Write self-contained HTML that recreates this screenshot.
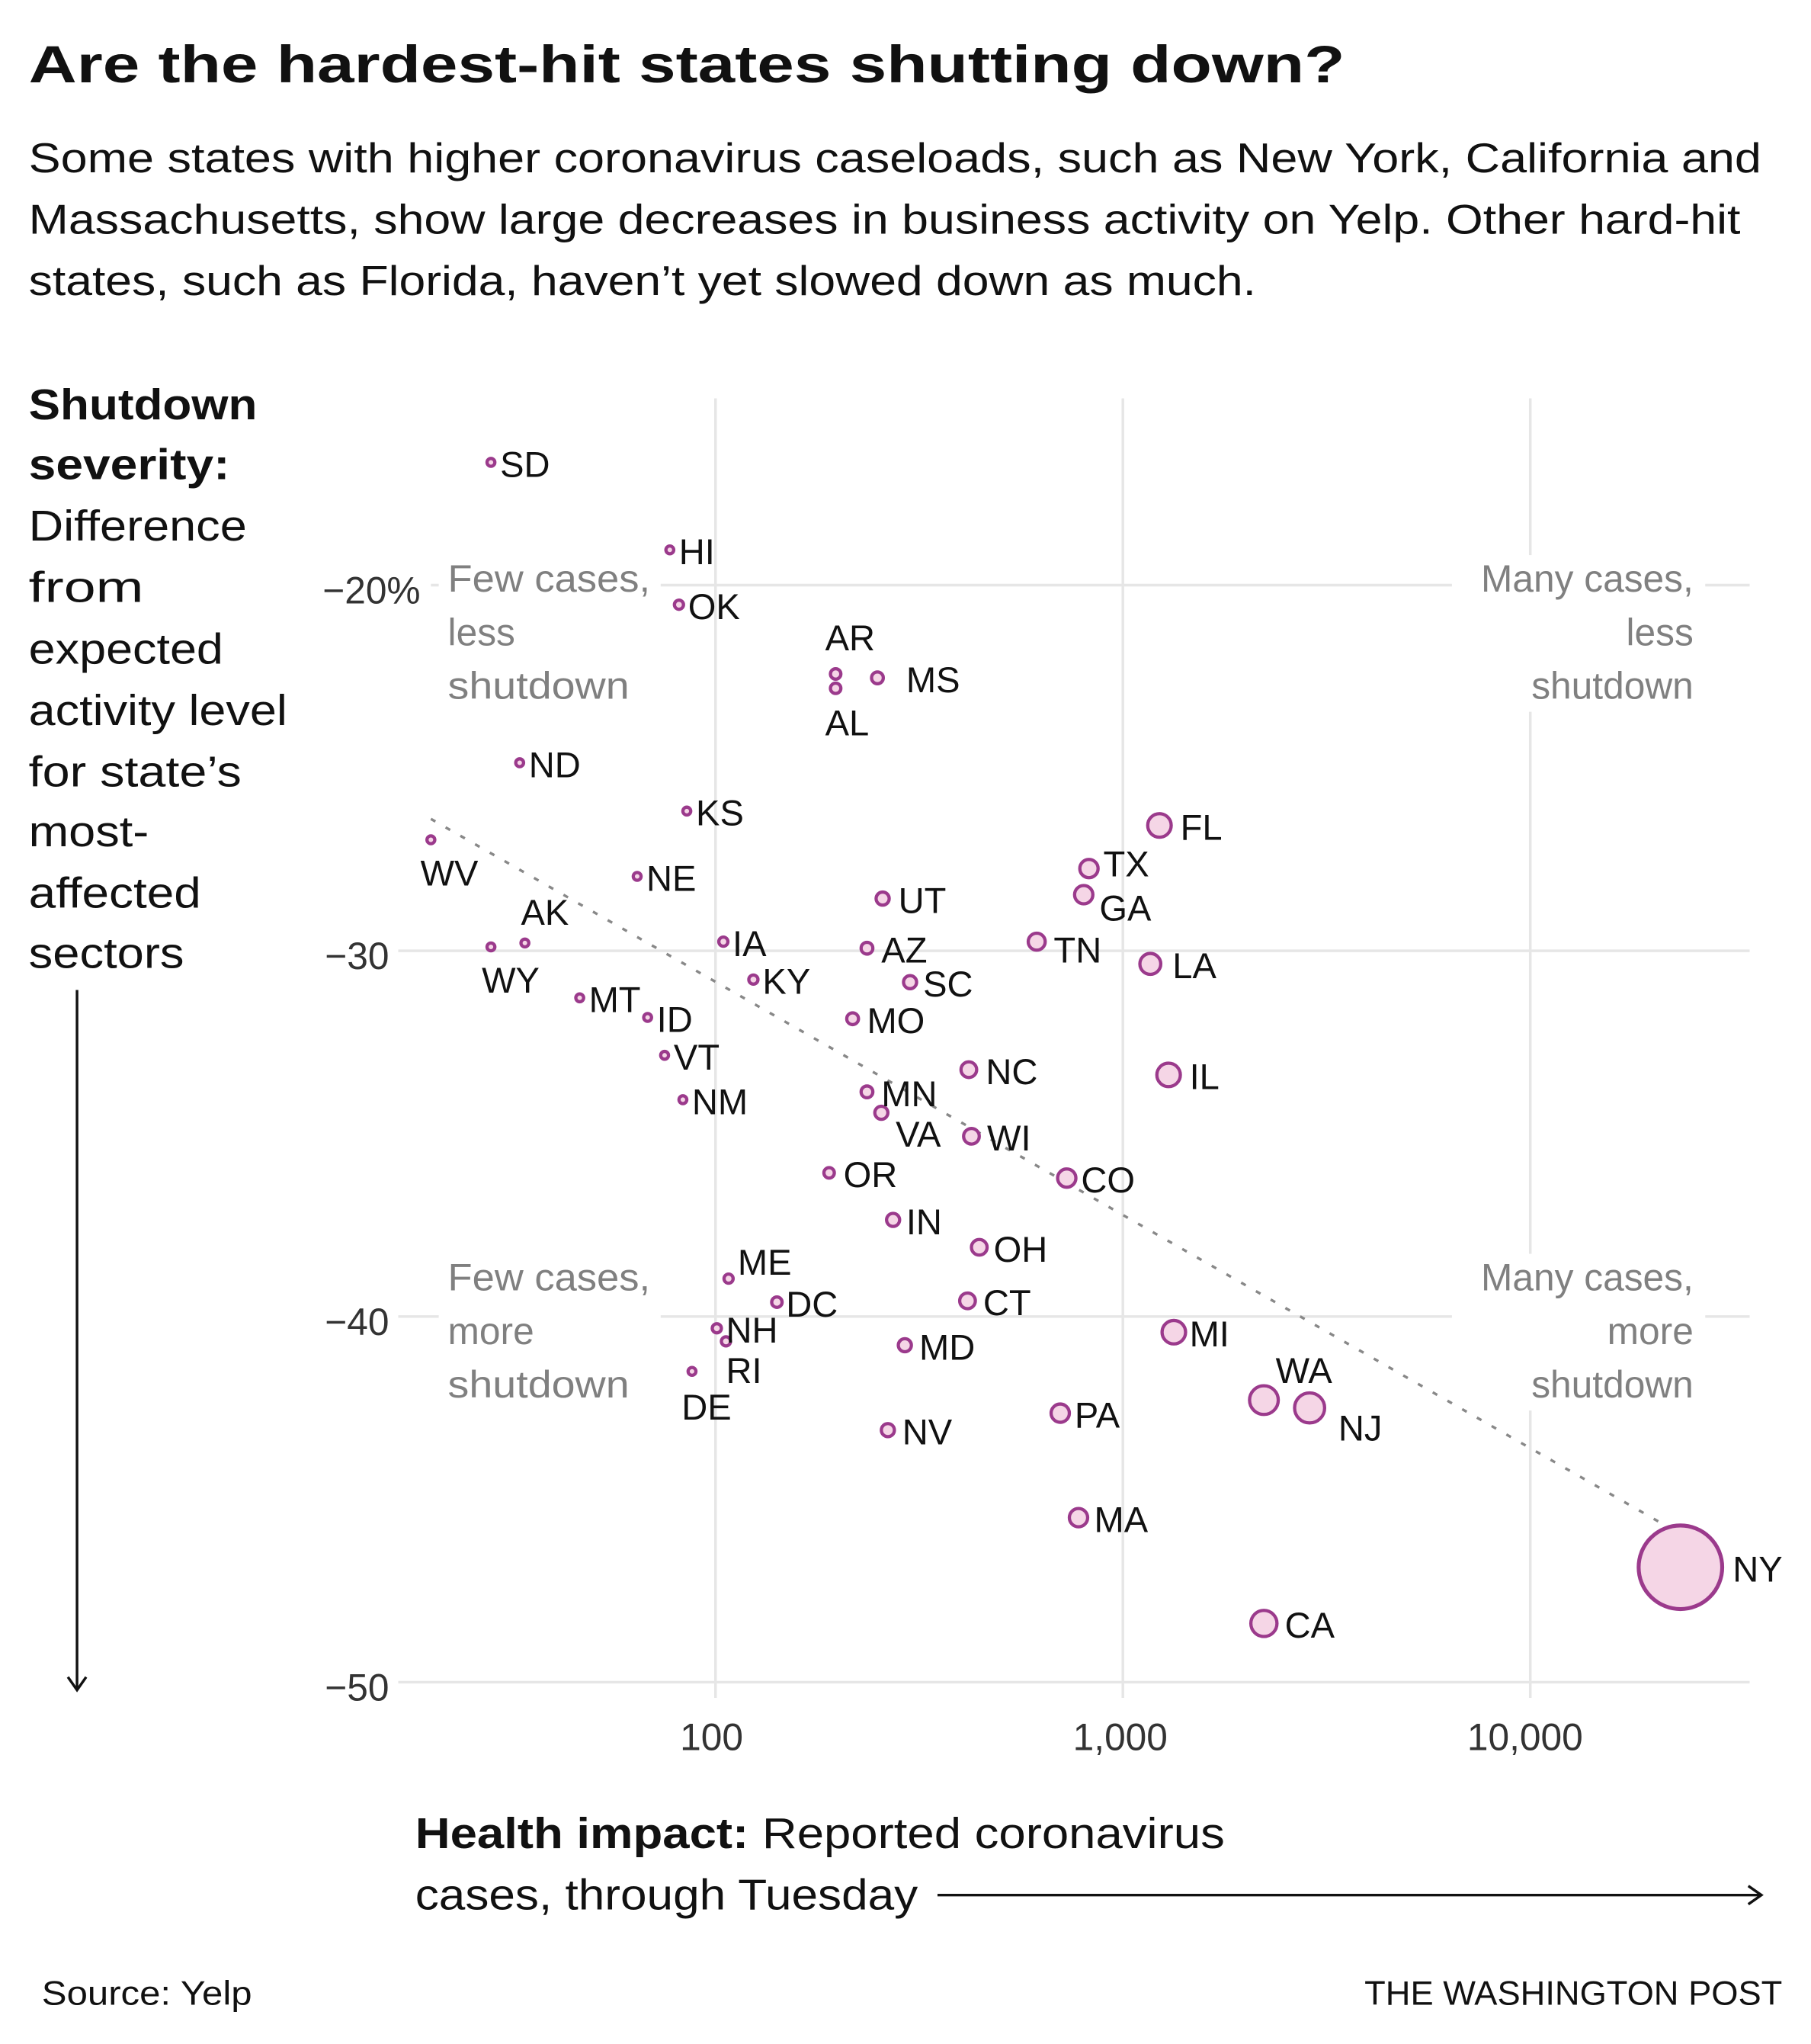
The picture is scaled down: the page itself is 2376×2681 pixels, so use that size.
<!DOCTYPE html>
<html><head><meta charset="utf-8"><style>
html,body{margin:0;padding:0;background:#fff}
svg{display:block}
text{font-family:"Liberation Sans",sans-serif}
.l{font-size:27.5px;fill:#111}
.q{font-size:29px;fill:#808080}
</style></head><body>
<svg width="2376" height="2681" viewBox="0 0 1387 1565" xmlns="http://www.w3.org/2000/svg">
<text x="22" y="63" font-size="40" font-weight="bold" fill="#111" textLength="1008" lengthAdjust="spacingAndGlyphs">Are the hardest-hit states shutting down?</text>
<g font-size="32" fill="#111">
<text x="22" y="132" textLength="1327" lengthAdjust="spacingAndGlyphs">Some states with higher coronavirus caseloads, such as New York,  California and</text>
<text x="22" y="179" textLength="1311" lengthAdjust="spacingAndGlyphs">Massachusetts, show large decreases in business activity on Yelp. Other hard-hit</text>
<text x="22" y="226" textLength="940" lengthAdjust="spacingAndGlyphs">states, such as Florida, haven’t yet slowed down as much.</text>
</g>
<g font-size="33" fill="#111">
<text x="22" y="321" font-weight="bold" textLength="175" lengthAdjust="spacingAndGlyphs">Shutdown</text>
<text x="22" y="367" font-weight="bold" textLength="154" lengthAdjust="spacingAndGlyphs">severity:</text>
<text x="22" y="414" textLength="167" lengthAdjust="spacingAndGlyphs">Difference</text>
<text x="22" y="461" textLength="88" lengthAdjust="spacingAndGlyphs">from</text>
<text x="22" y="508" textLength="149" lengthAdjust="spacingAndGlyphs">expected</text>
<text x="22" y="555" textLength="198" lengthAdjust="spacingAndGlyphs">activity level</text>
<text x="22" y="602" textLength="163" lengthAdjust="spacingAndGlyphs">for state’s</text>
<text x="22" y="648" textLength="92" lengthAdjust="spacingAndGlyphs">most-</text>
<text x="22" y="695" textLength="132" lengthAdjust="spacingAndGlyphs">affected</text>
<text x="22" y="741" textLength="119" lengthAdjust="spacingAndGlyphs">sectors</text>
</g>
<line x1="59" y1="758" x2="59" y2="1293" stroke="#111" stroke-width="2"/>
<polyline points="52,1284 59,1294 66,1284" fill="none" stroke="#111" stroke-width="2"/>
<g stroke="#e6e6e6" stroke-width="2">
<line x1="548" y1="305" x2="548" y2="1300"/>
<line x1="860" y1="305" x2="860" y2="1300"/>
<line x1="1172" y1="305" x2="1172" y2="1300"/>
<line x1="330" y1="448" x2="1340" y2="448"/>
<line x1="305" y1="728" x2="1340" y2="728"/>
<line x1="305" y1="1008" x2="1340" y2="1008"/>
<line x1="305" y1="1288" x2="1340" y2="1288"/>
</g>
<g font-size="29" fill="#333" text-anchor="end">
<text x="322" y="462">−20%</text>
<text x="298" y="742">−30</text>
<text x="298" y="1022">−40</text>
<text x="298" y="1302">−50</text>
</g>
<g font-size="29" fill="#333" text-anchor="middle">
<text x="545" y="1340">100</text>
<text x="858" y="1340">1,000</text>
<text x="1168" y="1340">10,000</text>
</g>
<rect x="336" y="425" width="170" height="120" fill="#fff"/>
<rect x="1112" y="425" width="194" height="120" fill="#fff"/>
<rect x="336" y="960" width="170" height="120" fill="#fff"/>
<rect x="1112" y="960" width="194" height="120" fill="#fff"/>
<g>
<text x="343" y="453" class="q" textLength="155" lengthAdjust="spacingAndGlyphs">Few cases,</text><text x="343" y="494" class="q">less</text><text x="343" y="535" class="q" textLength="139" lengthAdjust="spacingAndGlyphs">shutdown</text>
<text x="343" y="988" class="q" textLength="155" lengthAdjust="spacingAndGlyphs">Few cases,</text><text x="343" y="1029" class="q">more</text><text x="343" y="1070" class="q" textLength="139" lengthAdjust="spacingAndGlyphs">shutdown</text>
</g>
<g text-anchor="end">
<text x="1297" y="453" class="q">Many cases,</text><text x="1297" y="494" class="q">less</text><text x="1297" y="535" class="q">shutdown</text>
<text x="1297" y="988" class="q">Many cases,</text><text x="1297" y="1029" class="q">more</text><text x="1297" y="1070" class="q">shutdown</text>
</g>
<line x1="330" y1="627" x2="1272" y2="1166" stroke="#888" stroke-width="2" stroke-dasharray="4,9"/>
<g stroke="#9b3a8c" stroke-width="2.5" fill="#f5d6e6">
<circle cx="376" cy="354" r="3"/><circle cx="513" cy="421" r="3"/><circle cx="520" cy="463" r="3.5"/>
<circle cx="640" cy="516" r="4"/><circle cx="640" cy="527" r="4"/><circle cx="672" cy="519" r="4.5"/>
<circle cx="398" cy="584" r="3"/><circle cx="526" cy="621" r="3"/><circle cx="330" cy="643" r="3"/>
<circle cx="488" cy="671" r="3"/><circle cx="888" cy="632" r="9"/><circle cx="834" cy="665" r="7"/>
<circle cx="830" cy="685" r="7"/><circle cx="676" cy="688" r="5"/><circle cx="402" cy="722" r="3"/>
<circle cx="376" cy="725" r="3"/><circle cx="554" cy="721" r="3.5"/><circle cx="664" cy="726" r="4.5"/>
<circle cx="794" cy="721" r="6.5"/><circle cx="881" cy="738" r="8"/><circle cx="577" cy="750" r="3.5"/>
<circle cx="697" cy="752" r="5"/><circle cx="444" cy="764" r="3"/><circle cx="496" cy="779" r="3"/>
<circle cx="653" cy="780" r="4.5"/><circle cx="509" cy="808" r="3"/><circle cx="742" cy="819" r="6"/>
<circle cx="895" cy="823" r="9"/><circle cx="523" cy="842" r="3"/><circle cx="664" cy="836" r="4.5"/>
<circle cx="675" cy="852" r="5"/><circle cx="744" cy="870" r="6"/><circle cx="817" cy="902" r="7"/>
<circle cx="635" cy="898" r="4"/><circle cx="684" cy="934" r="5"/><circle cx="750" cy="955" r="6"/>
<circle cx="558" cy="979" r="3.5"/><circle cx="595" cy="997" r="4"/><circle cx="741" cy="996" r="6"/>
<circle cx="549" cy="1017" r="3.5"/><circle cx="556" cy="1027" r="3.5"/><circle cx="899" cy="1020" r="9"/>
<circle cx="693" cy="1030" r="5"/><circle cx="530" cy="1050" r="3"/><circle cx="968" cy="1072" r="11"/>
<circle cx="1003" cy="1078" r="11.5"/><circle cx="812" cy="1082" r="7"/><circle cx="680" cy="1095" r="5"/>
<circle cx="826" cy="1162" r="7"/><circle cx="1287" cy="1200" r="32" stroke-width="3"/><circle cx="968" cy="1243" r="10"/>
</g>
<g>
<text x="383" y="365" class="l">SD</text><text x="520" y="432" class="l">HI</text><text x="527" y="474" class="l">OK</text>
<text x="632" y="498" class="l">AR</text><text x="632" y="563" class="l">AL</text><text x="694" y="530" class="l">MS</text>
<text x="405" y="595" class="l">ND</text><text x="533" y="632" class="l">KS</text><text x="322" y="678" class="l">WV</text>
<text x="495" y="682" class="l">NE</text><text x="904" y="643" class="l">FL</text><text x="845" y="671" class="l">TX</text>
<text x="842" y="705" class="l">GA</text><text x="688" y="699" class="l">UT</text><text x="399" y="708" class="l">AK</text>
<text x="369" y="760" class="l">WY</text><text x="561" y="732" class="l">IA</text><text x="675" y="737" class="l">AZ</text>
<text x="807" y="737" class="l">TN</text><text x="898" y="749" class="l">LA</text><text x="584" y="761" class="l">KY</text>
<text x="707" y="763" class="l">SC</text><text x="451" y="775" class="l">MT</text><text x="503" y="790" class="l">ID</text>
<text x="664" y="791" class="l">MO</text><text x="516" y="819" class="l">VT</text><text x="755" y="830" class="l">NC</text>
<text x="911" y="834" class="l">IL</text><text x="530" y="853" class="l">NM</text><text x="675" y="847" class="l">MN</text>
<text x="686" y="878" class="l">VA</text><text x="756" y="881" class="l">WI</text><text x="828" y="913" class="l">CO</text>
<text x="646" y="909" class="l">OR</text><text x="694" y="945" class="l">IN</text><text x="761" y="966" class="l">OH</text>
<text x="565" y="976" class="l">ME</text><text x="602" y="1008" class="l">DC</text><text x="753" y="1007" class="l">CT</text>
<text x="556" y="1028" class="l">NH</text><text x="556" y="1059" class="l">RI</text><text x="911" y="1031" class="l">MI</text>
<text x="704" y="1041" class="l">MD</text><text x="522" y="1087" class="l">DE</text><text x="977" y="1059" class="l">WA</text>
<text x="1025" y="1103" class="l">NJ</text><text x="823" y="1093" class="l">PA</text><text x="691" y="1106" class="l">NV</text>
<text x="838" y="1173" class="l">MA</text><text x="1327" y="1211" class="l">NY</text><text x="984" y="1254" class="l">CA</text>
</g>
<g font-size="33" fill="#111">
<text x="318" y="1415" textLength="620" lengthAdjust="spacingAndGlyphs"><tspan font-weight="bold">Health impact:</tspan> Reported coronavirus</text>
<text x="318" y="1462" textLength="385" lengthAdjust="spacingAndGlyphs">cases, through Tuesday</text>
</g>
<line x1="718" y1="1451" x2="1349" y2="1451" stroke="#111" stroke-width="2"/>
<polyline points="1339,1444 1349,1451 1339,1458" fill="none" stroke="#111" stroke-width="2"/>
<text x="32" y="1535" font-size="26" fill="#111" textLength="161" lengthAdjust="spacingAndGlyphs">Source: Yelp</text>
<text x="1045" y="1535" font-size="26" fill="#111" textLength="320" lengthAdjust="spacingAndGlyphs">THE WASHINGTON POST</text>
</svg>
</body></html>
